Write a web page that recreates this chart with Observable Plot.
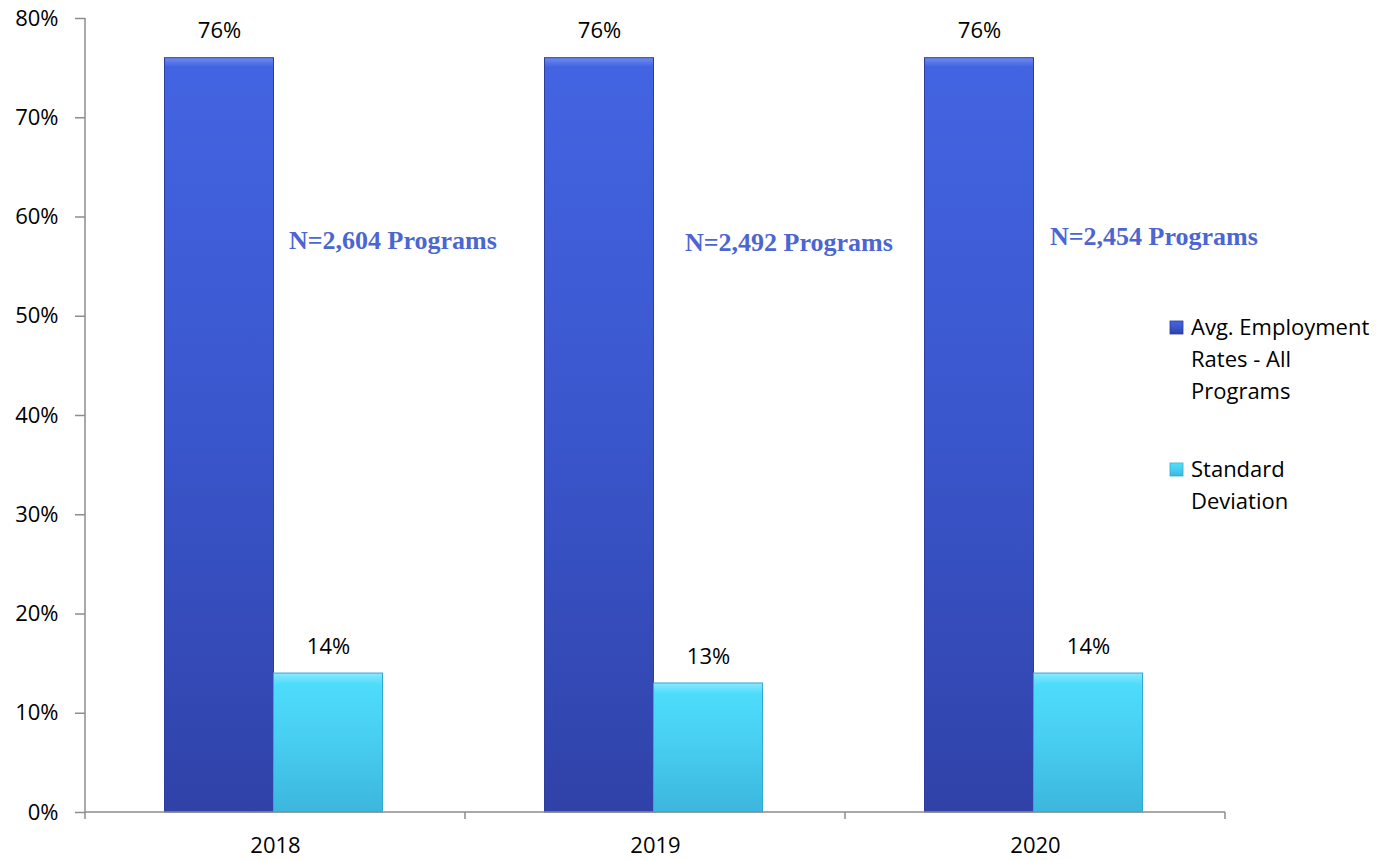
<!DOCTYPE html>
<html>
<head>
<meta charset="utf-8">
<script src="https://cdn.jsdelivr.net/npm/d3@7"></script>
<script src="https://cdn.jsdelivr.net/npm/@observablehq/plot@0.6"></script>
<style>
  html, body { margin: 0; padding: 0; background: #fff; }
  #chart { width: 1398px; height: 860px; overflow: hidden; }
</style>
</head>
<body>
<div id="chart"></div>
<script>
// ---- data ----
const years = ["2018", "2019", "2020"];
const seriesNames = ["Avg. Employment Rates - All Programs", "Standard Deviation"];
const avgRates = [76, 76, 76];
const stdDevs = [14, 13, 14];
const nLabels = ["N=2,604 Programs", "N=2,492 Programs", "N=2,454 Programs"];
const nLabelY = [57.6, 57.4, 58.0];
const yTicks = [0, 10, 20, 30, 40, 50, 60, 70, 80];
const legendLines = [["Avg. Employment", "Rates - All", "Programs"], ["Standard", "Deviation"]];

const data = years.flatMap((yr, i) => [
  {year: yr, series: seriesNames[0], value: avgRates[i]},
  {year: yr, series: seriesNames[1], value: stdDevs[i]}
]);
const notes = years.map((yr, i) => ({year: yr, series: seriesNames[1], value: nLabelY[i], text: nLabels[i]}));

const font = "'Open Sans', sans-serif";
const noteStyle = {fx: "year", x: "series", y: "value", text: "text", textAnchor: "start",
  fontFamily: "'Liberation Serif', serif", fontWeight: "bold", fontSize: 26, fill: "#4b66d0"};

const plot = Plot.plot({
  width: 1398, height: 860,
  marginLeft: 84, marginRight: 173, marginTop: 18, marginBottom: 48,
  style: {fontFamily: font, fontSize: "22px", color: "#000", background: "#fff"},
  fx: {domain: years, padding: 0, label: null, axis: null},
  x: {domain: seriesNames, paddingInner: 0, paddingOuter: 0.743, axis: null},
  y: {domain: [0, 80], axis: null},
  marks: [
    Plot.barY(data.filter(d => d.series === seriesNames[0]),
      {fx: "year", x: "series", y: "value", fill: "url(#gBlue)", stroke: "#2c3d9c", strokeWidth: 1, dx: -1.5}),
    Plot.barY(data.filter(d => d.series === seriesNames[1]),
      {fx: "year", x: "series", y: "value", fill: "url(#gCyan)", stroke: "#34a9cf", strokeWidth: 1, dx: -1.5}),
    Plot.text(data, {fx: "year", x: "series", y: "value", text: d => d.value + "%",
      dy: -27, dx: -1.5, fontSize: 22, fill: "#000"}),
    Plot.text(notes.filter(d => d.year === years[0]), {...noteStyle, dx: -41}),
    Plot.text(notes.filter(d => d.year === years[1]), {...noteStyle, dx: -25}),
    Plot.text(notes.filter(d => d.year === years[2]), {...noteStyle, dx: -40}),
    Plot.axisY({ticks: yTicks, tickFormat: d => d + "%", tickSize: 10, tickPadding: 17,
      fontSize: 22, label: null, stroke: "#8c8c8c", strokeWidth: 1.5, color: "#000"}),
    Plot.axisFx({anchor: "bottom", tickSize: 0, tickPadding: 25, fontSize: 22, label: null})
  ]
});

const svg = d3.select(plot);
const defs = svg.insert("defs", ":first-child");
function grad(id, stops) {
  const g = defs.append("linearGradient").attr("id", id)
    .attr("x1", 0).attr("y1", 0).attr("x2", 0).attr("y2", 1);
  stops.forEach(([o, c]) => g.append("stop").attr("offset", o).attr("stop-color", c));
}
grad("gBlue", [[0, "#6f8cf0"], [0.012, "#4364e2"], [0.5, "#3a56cc"], [1, "#3042a8"]]);
grad("gCyan", [[0, "#8ce8ff"], [0.08, "#4edcfb"], [0.5, "#47cdf0"], [1, "#3cb6dd"]]);

const fx = plot.scale("fx"), y = plot.scale("y");
const x0 = fx.apply(years[0]);
const x1 = fx.apply(years[years.length - 1]) + fx.bandwidth;
const y0 = y.apply(0), yTop = y.apply(80);
const axisColor = "#8c8c8c";
const ax = svg.append("g").attr("stroke", axisColor).attr("stroke-width", 1.5).attr("fill", "none");
ax.append("line").attr("x1", x0).attr("x2", x0).attr("y1", yTop).attr("y2", y0 + 7);
ax.append("line").attr("x1", x0).attr("x2", x1).attr("y1", y0).attr("y2", y0);
years.forEach(yr => {
  const xe = fx.apply(yr) + fx.bandwidth;
  ax.append("line").attr("x1", xe).attr("x2", xe).attr("y1", y0).attr("y2", y0 + 7);
});

// legend
const lg = svg.append("g").attr("font-family", font).attr("font-size", 22).attr("fill", "#000")
  .attr("text-anchor", "start");
const legendStart = [327, 469];
const legendGrads = ["gBlue", "gCyan"];
const legendStroke = ["#2c3d9c", "#34a9cf"];
legendLines.forEach((lines, i) => {
  lg.append("rect").attr("x", 1170).attr("y", legendStart[i] - 6).attr("width", 13).attr("height", 13)
    .attr("fill", `url(#${legendGrads[i]})`).attr("stroke", legendStroke[i]).attr("stroke-width", 0.8);
  lines.forEach((t, j) => {
    lg.append("text").attr("x", 1191).attr("y", legendStart[i] + j * 32).attr("dy", "0.35em")
      .attr("text-anchor", "start").text(t);
  });
});

document.getElementById("chart").appendChild(plot);
</script>
</body>
</html>
